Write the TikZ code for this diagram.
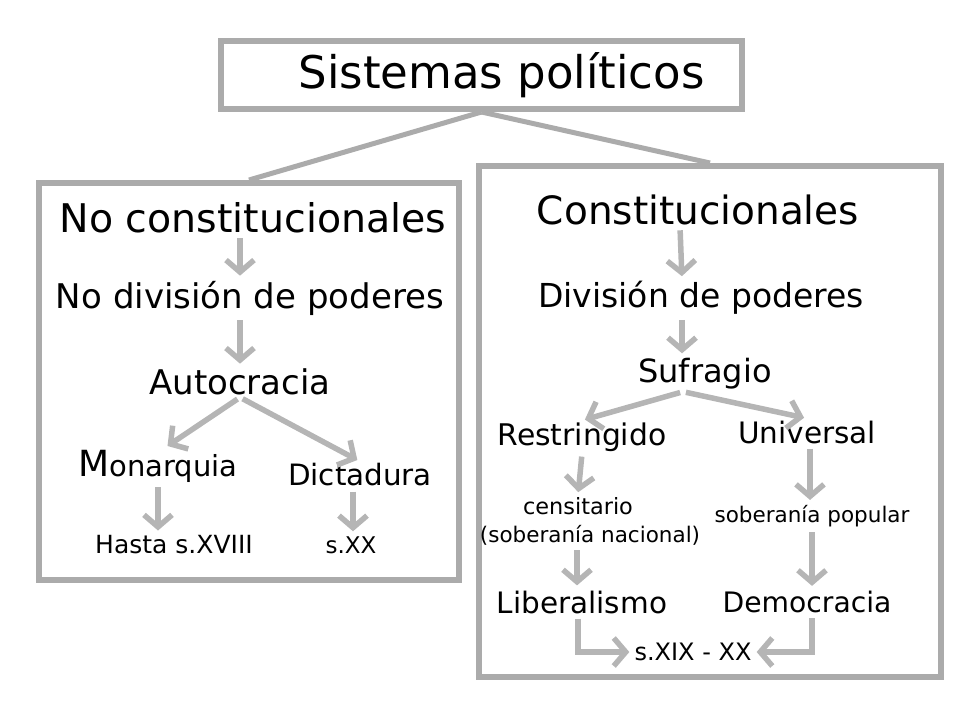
\documentclass[tikz,border=0pt]{standalone}
\usepackage{fontspec}
\setmainfont{DejaVu Sans}
\usetikzlibrary{arrows.meta, positioning}

\definecolor{grisborde}{HTML}{ABABAB}
\definecolor{grisflecha}{HTML}{B5B5B5}
\newcommand{\letra}[1]{\fontsize{#1}{#1}\selectfont}

\begin{document}
\begin{tikzpicture}[x = 1pt, y = -1pt,
	caja/.style = {draw = grisborde, line width = 6pt, inner sep = 0pt},
	texto/.style = {inner sep = 2pt},
	rama/.style = {draw = grisborde, line width = 5pt},
	flecha/.style = {draw = grisflecha, line width = 5.5pt, shorten < = 3pt, shorten > = 3pt, -{Straight Barb[length = 12pt, width = 28pt]}}]

\useasboundingbox (0, 0) rectangle (960, 720);

	% Boxes

	\node [caja, minimum width = 521pt, minimum height = 68pt, font = \letra{45}] (sistemas) at (481.5, 75) {\hspace*{40pt}Sistemas políticos};
	\node [caja, minimum width = 420pt, minimum height = 397pt] (cajaizq) at (249, 381.5) {};
	\node [caja, minimum width = 462pt, minimum height = 511pt] (cajader) at (710, 421.5) {};

	\draw [rama] (sistemas.south) -- (cajaizq.north);
	\draw [rama] (sistemas.south) -- (cajader.north);

	% No constitucionales

	\node [texto, font = \letra{39.5}] (noconst) at (253, 218) {No constitucionales};
	\node [texto, font = \letra{34}] (nodiv) at (250, 298) {No división de poderes};
	\node [texto, font = \letra{34}] (autocracia) at (240, 382) {Autocracia};
	\node [texto, font = \letra{29}] (monarquia) at (158, 466) {{\letra{36}M}onarquia};
	\node [texto, font = \letra{29.4}] (dictadura) at (360, 475) {Dictadura};
	\node [texto, font = \letra{25}] (hasta) at (174, 545) {Hasta s.XVIII};
	\node [texto, font = \letra{23}] (sxx) at (351, 545) {s.XX};

	\draw [flecha] ([xshift = -13pt] noconst.south) -- ([xshift = -10pt] nodiv.north);
	\draw [flecha] ([xshift = -10pt] nodiv.south) -- (autocracia.north);
	\draw [flecha] (autocracia.south) -- ([xshift = 7pt] monarquia.north);
	\draw [flecha] (autocracia.south) -- (dictadura.north);
	\draw [flecha] (monarquia.south) -- (monarquia.south |- hasta.north);
	\draw [flecha] ([xshift = -7pt] dictadura.south) -- ([xshift = -7pt] dictadura.south |- sxx.north);

	% Constitucionales

	\node [texto, font = \letra{39}] (const) at (698, 210) {Constitucionales};
	\node [texto, font = \letra{33}] (div) at (701, 298) {División de poderes};
	\node [texto, font = \letra{32}] (sufragio) at (705, 374) {Sufragio};
	\node [texto, font = \letra{29.8}] (restringido) at (582, 437) {Restringido};
	\node [texto, font = \letra{29.5}] (universal) at (807, 432) {Universal};
	\node [texto, font = \letra{22.4}] (censitario) at (578, 506) {censitario};
	\node [texto, font = \letra{21.5}] (nacional) at (590, 535) {(soberanía nacional)};
	\node [texto, font = \letra{21.5}] (popular) at (812, 516) {soberanía popular};
	\node [texto, font = \letra{29.5}] (liberalismo) at (582, 602) {Liberalismo};
	\node [texto, font = \letra{28.2}] (democracia) at (807, 602) {Democracia};
	\node [texto, font = \letra{24}] (siglos) at (693, 652) {s.XIX - XX};

	\draw [flecha] ([xshift = -18pt] const.south) -- ([xshift = -19pt] div.north);
	\draw [flecha] ([xshift = -19pt] div.south) -- ([xshift = -23pt] sufragio.north);
	\draw [flecha] ([xshift = -22pt] sufragio.south) -- (restringido.north);
	\draw [flecha] ([xshift = -22pt] sufragio.south) -- (universal.north);
	\draw [flecha] (restringido.south) -- (censitario.north);
	\draw [flecha] ([xshift = 3pt] universal.south) -- ([xshift = 3pt] universal.south |- popular.north);
	\draw [flecha] ([xshift = -13pt] nacional.south) -- ([xshift = -13pt] nacional.south |- liberalismo.north);
	\draw [flecha] (popular.south) -- (popular.south |- democracia.north);
	\draw [flecha] ([xshift = -4pt] liberalismo.south) |- (siglos.west);
	\draw [flecha] ([xshift = 5pt] democracia.south) |- (siglos.east);

\end{tikzpicture}
\end{document}
